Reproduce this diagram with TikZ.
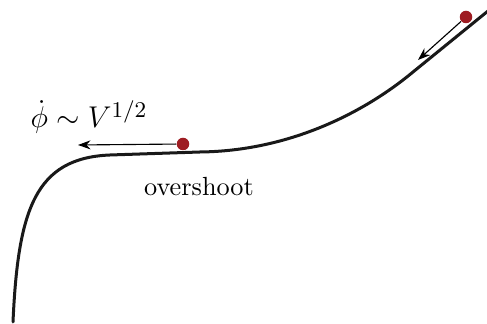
\documentclass[tikz,border=0pt]{standalone}
\usetikzlibrary{arrows.meta}
\definecolor{dotred}{RGB}{158,28,34}
\begin{document}
\begin{tikzpicture}[x=0.4pt,y=-0.4pt,
  curve/.style={line width=1.2pt, line cap=round, color=black!90},
  ball/.style={circle, fill=dotred, inner sep=0pt, minimum size=5pt},
  move/.style={line width=0.45pt, -{Stealth[length=5pt,width=3.6pt]}}]
\useasboundingbox (0,0) rectangle (487,324);
\draw[curve] (13,322) .. controls (18,210) and (35,158) .. (110,155)
  -- (200,152) .. controls (290,151) and (365,112) .. (413,72) -- (488,11);
\node[ball] (b1) at (466,17) {};
\coordinate (t1) at (418,60);
\draw[move] (b1) -- (t1);
\node[ball] (b2) at (183,144) {};
\coordinate (t2) at (78,145);
\draw[move] (b2) -- (t2);
\node[font=\fontsize{13}{16}\selectfont] (lab) at (89,117) {$\dot\phi \sim V^{1/2}$};
\node[font=\fontsize{10.5}{12}\selectfont] (os) at (199,187) {overshoot};
\end{tikzpicture}
\end{document}
